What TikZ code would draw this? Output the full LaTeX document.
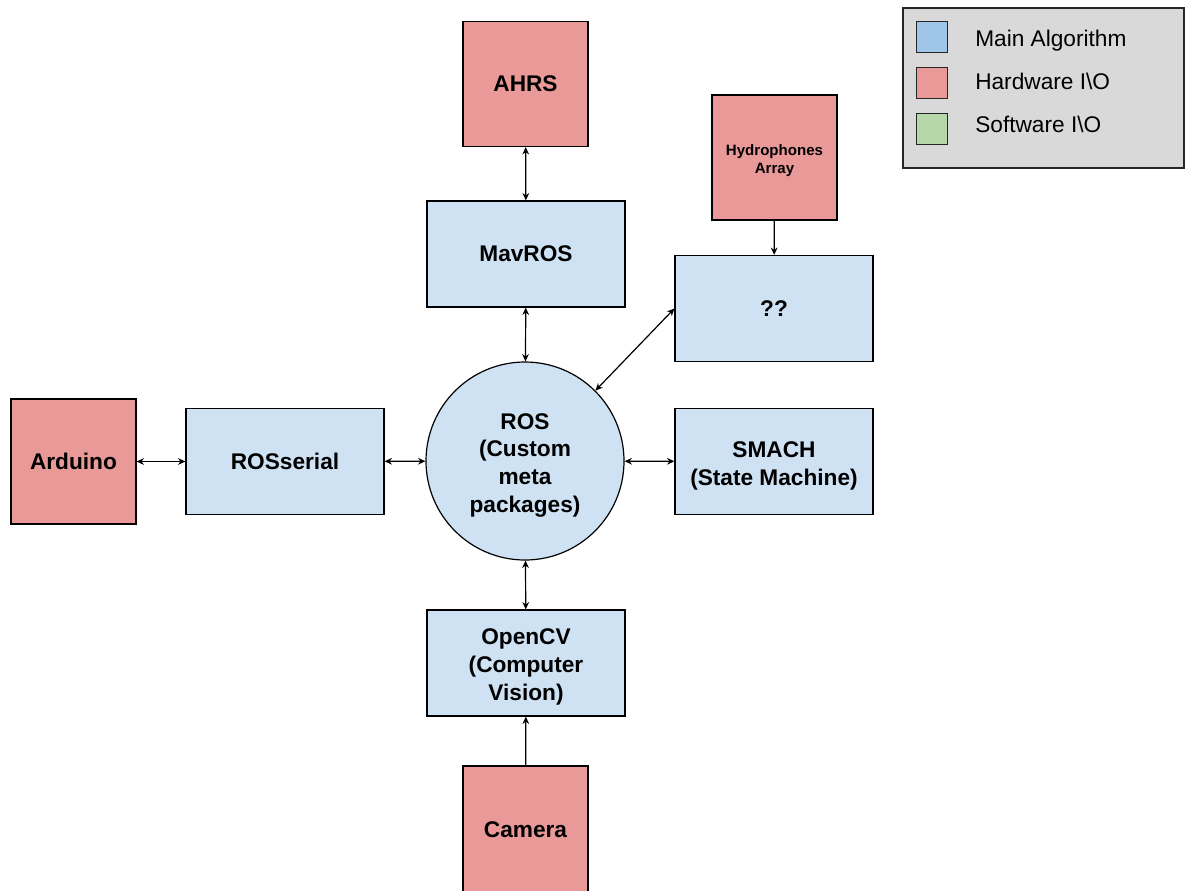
\documentclass[tikz,border=0pt]{standalone}
\usepackage{fontspec}
\setmainfont{Liberation Sans}
\usetikzlibrary{arrows.meta,positioning}
\definecolor{rosblue}{HTML}{CFE2F3}
\definecolor{keyblue}{HTML}{9FC5E8}
\definecolor{hwred}{HTML}{EA9999}
\definecolor{swgreen}{HTML}{B6D7A8}
\definecolor{keygray}{HTML}{D9D9D9}
% extra room above the first line of a stacked label
\newcommand{\firstline}[1][18pt]{\rule{0pt}{#1}}
\tikzset{base/.style={draw=black,line width=0.9pt,align=center,font=\fontsize{17}{20.8}\selectfont\bfseries,inner sep=2pt}, block/.style={base,fill=rosblue,minimum width=148.5pt,minimum height=79.5pt}, hw/.style={base,fill=hwred,minimum width=93.75pt,minimum height=93.75pt}, hub/.style={base,circle,fill=rosblue,minimum size=148.5pt,inner sep=0pt}, flow/.style={{Stealth[length=5.5pt,width=5pt]}-{Stealth[length=5.5pt,width=5pt]},line width=0.9pt}, feed/.style={-{Stealth[length=5.5pt,width=5pt]},line width=0.9pt}, swatch/.style={draw=black!85,line width=0.9pt,minimum size=23.25pt,inner sep=0pt}, keytext/.style={anchor=base west,inner sep=0pt,font=\fontsize{17}{20}\selectfont}}

\begin{document}
\begin{tikzpicture}[x=0.75pt,y=-0.75pt]
\useasboundingbox (0,0) rectangle (1185,890);
% middle column
\node[hw] (ahrs) at (525.5,84) {AHRS};
\node[block] (mav) at (526,254) {MavROS};
\node[hub] (ros) at (525,461) {\firstline ROS\\(Custom\\meta\\packages)};
\node[block] (cv) at (526,663) {\firstline OpenCV\\(Computer\\Vision)};
\node[hw,minimum height=96pt] (cam) at (525.5,830) {Camera};
% left and right
\node[hw] (ard) at (73.5,461.5) {Arduino};
\node[block] (rser) at (285,461.5) {ROSserial};
\node[block] (smach) at (774,461.5) {\firstline SMACH\\(State Machine)};
\node[hw,font=\fontsize{11.3}{13.5}\selectfont\bfseries] (hyd) at (774.5,157.5) {\firstline[13pt]Hydrophones\\Array};
\node[block] (unk) at (774,308.5) {??};
% links
\draw[flow] (ahrs) -- (mav);
\draw[flow] (mav) -- (ros);
\draw[flow] (ard) -- (rser);
\draw[flow] (rser) -- (ros);
\draw[flow] (ros) -- (smach);
\draw[flow] (ros) -- (cv);
\draw[flow] (ros.45) -- (unk.west);
\draw[feed] (cam) -- (cv);
\draw[feed] (hyd) -- (unk);
% legend
\node[draw=black!85,line width=0.9pt,fill=keygray,minimum width=210.75pt,minimum height=120pt,inner sep=0pt] (key) at (1043.5,88) {};
\node[swatch,fill=keyblue] (kmain) at (932,37) {};
\node[swatch,fill=hwred] (khw) at (932,83) {};
\node[swatch,fill=swgreen] (ksw) at (932,129) {};
\node[keytext] at (975,46) {Main Algorithm};
\node[keytext] at (975,89) {Hardware I\textbackslash O};
\node[keytext] at (975,132) {Software I\textbackslash O};
\end{tikzpicture}
\end{document}
